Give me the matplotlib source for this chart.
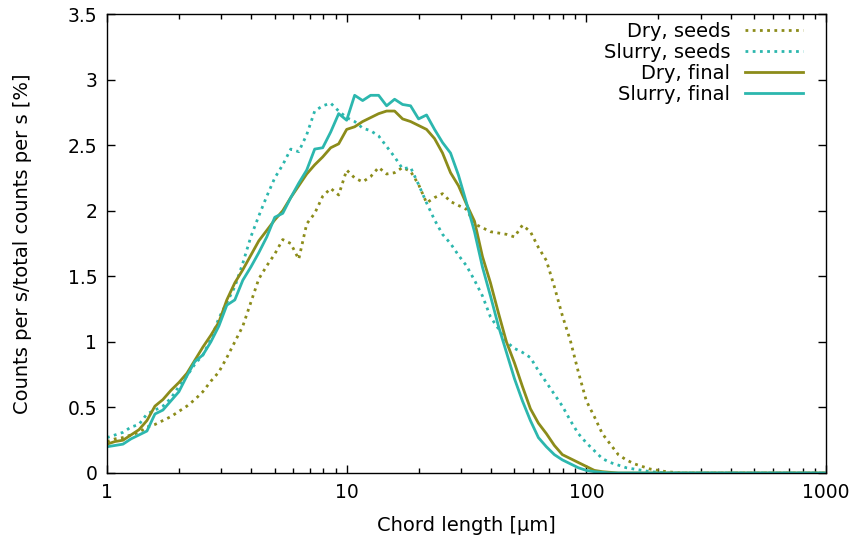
import matplotlib
matplotlib.use("Agg")
import matplotlib.pyplot as plt
import numpy as np
from matplotlib.ticker import FixedLocator, FuncFormatter, NullFormatter

# FBRM chord length channels, 30 per decade from 1 to 1000 um
chord = 10 ** (np.arange(91) / 30)

dry_seeds = [
    0.24, 0.26, 0.27, 0.29, 0.31, 0.35, 0.37, 0.40, 0.43, 0.47,
    0.51, 0.56, 0.62, 0.70, 0.77, 0.88, 1.00, 1.12, 1.30, 1.48,
    1.58, 1.67, 1.78, 1.75, 1.63, 1.90, 1.98, 2.11, 2.17, 2.12,
    2.31, 2.25, 2.22, 2.26, 2.33, 2.28, 2.29, 2.33, 2.30, 2.20,
    2.06, 2.10, 2.13, 2.07, 2.04, 2.01, 1.90, 1.87, 1.84, 1.83,
    1.82, 1.80, 1.89, 1.84, 1.72, 1.62, 1.42, 1.20, 1.01, 0.77,
    0.55, 0.43, 0.30, 0.22, 0.14, 0.10, 0.07, 0.05, 0.03, 0.02,
    0.01, 0.005] + [0.0] * 19

slurry_seeds = [
    0.27, 0.29, 0.31, 0.35, 0.37, 0.45, 0.48, 0.51, 0.57, 0.66,
    0.74, 0.83, 0.90, 1.02, 1.18, 1.30, 1.42, 1.60, 1.80, 1.96,
    2.11, 2.25, 2.35, 2.47, 2.45, 2.58, 2.76, 2.80, 2.82, 2.76,
    2.71, 2.68, 2.63, 2.61, 2.57, 2.49, 2.41, 2.32, 2.33, 2.20,
    2.06, 1.93, 1.82, 1.75, 1.66, 1.58, 1.47, 1.35, 1.19, 1.10,
    1.00, 0.95, 0.92, 0.88, 0.78, 0.69, 0.60, 0.51, 0.40, 0.30,
    0.23, 0.17, 0.11, 0.08, 0.06, 0.04, 0.03, 0.02, 0.01, 0.005] + [0.0] * 21

dry_final = [
    0.22, 0.24, 0.25, 0.29, 0.33, 0.40, 0.51, 0.56, 0.63, 0.69,
    0.76, 0.86, 0.96, 1.05, 1.15, 1.32, 1.45, 1.55, 1.66, 1.77,
    1.85, 1.93, 2.00, 2.10, 2.19, 2.28, 2.35, 2.41, 2.48, 2.51,
    2.62, 2.64, 2.68, 2.71, 2.74, 2.76, 2.76, 2.70, 2.68, 2.65,
    2.62, 2.55, 2.44, 2.29, 2.19, 2.05, 1.92, 1.65, 1.45, 1.22,
    1.00, 0.84, 0.66, 0.49, 0.38, 0.30, 0.21, 0.14, 0.11, 0.08,
    0.05, 0.02, 0.01, 0.005] + [0.0] * 27

slurry_final = [
    0.20, 0.21, 0.22, 0.26, 0.29, 0.32, 0.45, 0.48, 0.55, 0.62,
    0.74, 0.85, 0.90, 1.00, 1.12, 1.28, 1.32, 1.47, 1.57, 1.68,
    1.80, 1.95, 1.98, 2.10, 2.21, 2.31, 2.47, 2.48, 2.60, 2.74,
    2.69, 2.88, 2.84, 2.88, 2.88, 2.80, 2.85, 2.81, 2.80, 2.70,
    2.73, 2.62, 2.52, 2.44, 2.27, 2.06, 1.84, 1.57, 1.35, 1.12,
    0.92, 0.72, 0.55, 0.40, 0.27, 0.20, 0.14, 0.10, 0.07, 0.04,
    0.02, 0.01, 0.005] + [0.0] * 28

olive = "#8c8c1a"
teal = "#2cb7ae"
dotted = (0, (1, 1.6))

fig = plt.figure(figsize=(8.57, 5.41), dpi=100)
ax = fig.add_axes([107 / 857, 68 / 541, 719 / 857, 459 / 541])

ax.plot(chord, dry_seeds, color=olive, lw=2, linestyle=dotted, label="Dry, seeds")
ax.plot(chord, slurry_seeds, color=teal, lw=2, linestyle=dotted, label="Slurry, seeds")
ax.plot(chord, dry_final, color=olive, lw=2, label="Dry, final")
ax.plot(chord, slurry_final, color=teal, lw=2, label="Slurry, final")

ax.set_xscale("log")
ax.set_xlim(1, 1000)
ax.set_ylim(0, 3.5)
ax.xaxis.set_major_locator(FixedLocator([1, 10, 100, 1000]))
ax.xaxis.set_major_formatter(FuncFormatter(lambda v, p: "%g" % v))
ax.xaxis.set_minor_locator(FixedLocator([m * d for d in (1, 10, 100) for m in range(2, 10)]))
ax.xaxis.set_minor_formatter(NullFormatter())
ax.set_yticks(np.arange(0, 3.51, 0.5))
ax.yaxis.set_major_formatter(FuncFormatter(lambda v, p: "%g" % v))

ax.tick_params(which="both", direction="in", top=True, right=True, labelsize=13.5,
               colors="black", width=1)
ax.tick_params(which="major", length=6, pad=7)
ax.tick_params(which="minor", length=3.5)
for s in ax.spines.values():
    s.set_linewidth(1)

ax.set_xlabel("Chord length [µm]", fontsize=14, labelpad=10)
ax.set_ylabel("Counts per s/total counts per s [%]", fontsize=14, labelpad=26)

ax.legend(loc="upper right", bbox_to_anchor=(803 / 857, 519 / 541),
          bbox_transform=fig.transFigure, frameon=False, markerfirst=False,
          fontsize=14, handlelength=3.0, handletextpad=0.75, labelspacing=0.1,
          borderpad=0, borderaxespad=0)

fig.savefig("out.png", dpi=100)
